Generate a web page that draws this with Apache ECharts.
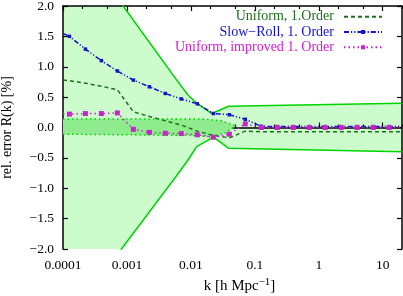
<!DOCTYPE html>
<html><head><meta charset="utf-8">
<script src="https://cdn.jsdelivr.net/npm/echarts@6/dist/echarts.min.js"></script>
<style>html,body{margin:0;padding:0;background:#fff}#c{width:403px;height:296px}</style>
</head><body><div id="c"></div>
<script>
// shared k grid (h/Mpc)
const kGrid = [1e-4, 1.26e-4, 2.24e-4, 3.98e-4, 7.08e-4, 1.26e-3, 2.24e-3, 3.98e-3, 7.08e-3, 0.0126, 0.0224, 0.0398, 0.0708, 0.126, 0.224, 0.398, 0.708, 1.26, 2.24, 3.98, 7.08, 12.6, 20];
const uniform1 = [0.78, 0.77, 0.73, 0.68, 0.62, 0.26, 0.18, 0.11, 0.04, -0.06, -0.13, -0.17, -0.06, -0.07, -0.07, -0.07, -0.07, -0.07, -0.07, -0.07, -0.07, -0.07, -0.07];
const slowRoll1 = [1.55, 1.50, 1.29, 1.10, 0.93, 0.78, 0.67, 0.56, 0.47, 0.39, 0.23, 0.21, 0.135, 0.02, 0.015, 0.015, 0.015, 0.015, 0.015, 0.015, 0.015, 0.015, 0.015];
const improved1 = [0.23, 0.22, 0.23, 0.23, 0.24, -0.03, -0.08, -0.095, -0.10, -0.12, -0.16, -0.11, 0.06, 0.0, 0.0, 0.0, 0.0, 0.0, 0.0, 0.0, 0.0, 0.0, 0.0];
// outer error band
const outerUpK = [1e-4, 8.7e-4, 0.006, 0.009, 0.0123, 0.0212, 0.0386, 20];
const outerUpV = [3.37, 2.0, 0.78, 0.535, 0.40, 0.23, 0.35, 0.40];
const outerLoK = [1e-4, 8.2e-4, 0.006, 0.009, 0.0123, 0.0225, 0.0386, 20];
const outerLoV = [-3.29, -2.0, -0.79, -0.535, -0.316, -0.16, -0.34, -0.40];
// inner error band
const innerUpK = [1e-4, 0.015, 0.03, 0.05];
const innerUpV = [0.14, 0.14, 0.11, 0.03];
const innerLoK = [1e-4, 0.01, 0.02, 0.035, 0.05];
const innerLoV = [-0.11, -0.13, -0.15, -0.09, 0.03];
// ticks
const majorTicks = [1e-4, 1e-3, 0.01, 0.1, 1, 10];
const minorTicks = [2e-4, 5e-4, 2e-3, 5e-3, 0.02, 0.05, 0.2, 0.5, 2, 5, 20];
const seriesNames = ['Uniform, 1.Order', 'Slow\u2212Roll, 1. Order', 'Uniform, improved 1. Order'];

const FONT = 'Liberation Serif';
const cGreenLine = '#00d400', cOuter = '#ccfccc', cInner = '#8eec8e';
const cUni = '#1e6e1e', cSR = '#1414cc', cImp = '#cc22cc';

function pairs(ks, vs) { return ks.map((k, i) => [k, vs[i]]); }
function marked(ks, vs) {
  return ks.map((k, i) => (i === 0 || i === ks.length - 1) ? { value: [k, vs[i]], symbol: 'none' } : [k, vs[i]]);
}
function band(upK, upV, loK, loV, color, z) {
  return {
    type: 'custom', z: z, silent: true, clip: true,
    data: [[upK[1], 0]],
    renderItem: function (params, api) {
      const pts = [];
      for (let i = 0; i < upK.length; i++) pts.push(api.coord([upK[i], upV[i]]));
      for (let i = loK.length - 1; i >= 0; i--) pts.push(api.coord([loK[i], loV[i]]));
      const cs = params.coordSys;
      return { type: 'polygon', shape: { points: echarts.graphic.clipPointsByRect(pts, cs) }, style: { fill: color } };
    }
  };
}
function edge(ks, vs, dotted) {
  return { type: 'line', data: pairs(ks, vs), symbol: 'none', z: 3, silent: true, clip: true,
    lineStyle: { color: cGreenLine, width: 1.5, type: dotted ? [1.5, 3] : 'solid' } };
}
const fmtK = v => String(+(+v).toPrecision(6));
const xBase = { type: 'log', logBase: 10, min: 1e-4, max: 20, splitLine: { show: false } };
const tickStyle = { lineStyle: { color: '#000', width: 1.2 } };

const chart = echarts.init(document.getElementById('c'), null, { renderer: 'canvas' });
chart.setOption({
  animation: false,
  backgroundColor: '#fff',
  grid: { left: 63, right: 1, top: 6, bottom: 47, containLabel: false, outerBoundsMode: 'none' },
  legend: {
    data: [
      { name: seriesNames[0], textStyle: { color: cUni }, itemStyle: { opacity: 0 } },
      { name: seriesNames[1], textStyle: { color: cSR } },
      { name: seriesNames[2], textStyle: { color: cImp } }
    ],
    orient: 'vertical', right: 20, top: 9, padding: 0, align: 'right', itemWidth: 38, itemHeight: 5, itemGap: 0,
    textStyle: { fontFamily: FONT, fontSize: 14, padding: [0, 5, 0, 0], lineHeight: 15.3 }
  },
  xAxis: [
    Object.assign({}, xBase, { position: 'bottom',
      axisLine: { show: true, lineStyle: { color: '#000', width: 1.5 } },
      axisTick: Object.assign({ inside: true, length: 5, customValues: majorTicks }, tickStyle),
      axisLabel: { customValues: majorTicks, formatter: fmtK, fontFamily: FONT, fontSize: 13.5, color: '#000', margin: 9 },
      name: 'k [h Mpc{sup|\u22121}]', nameLocation: 'middle', nameGap: 24,
      nameTextStyle: { fontFamily: FONT, fontSize: 15, color: '#000', lineHeight: 18, padding: [0, 0, 0, 14],
        rich: { sup: { fontFamily: FONT, fontSize: 11, verticalAlign: 'top', lineHeight: 18 } } } }),
    Object.assign({}, xBase, { position: 'bottom', axisLine: { show: false },
      axisTick: Object.assign({ inside: true, length: 3, customValues: minorTicks }, tickStyle),
      axisLabel: { show: false } }),
    Object.assign({}, xBase, { position: 'top',
      axisLine: { show: true, lineStyle: { color: '#000', width: 1.5 } },
      axisTick: Object.assign({ inside: true, length: 5, customValues: majorTicks }, tickStyle),
      axisLabel: { show: false } }),
    Object.assign({}, xBase, { position: 'top', axisLine: { show: false },
      axisTick: Object.assign({ inside: true, length: 3, customValues: minorTicks }, tickStyle),
      axisLabel: { show: false } })
  ],
  yAxis: [
    { type: 'value', min: -2, max: 2, interval: 0.5, position: 'left', splitLine: { show: false },
      axisLine: { show: true, lineStyle: { color: '#000', width: 1.5 } },
      axisTick: Object.assign({ inside: true, length: 5 }, tickStyle),
      axisLabel: { formatter: v => v.toFixed(1).replace('-', '\u2212'), fontFamily: FONT, fontSize: 13.5, color: '#000', margin: 9 },
      name: 'rel. error R(k) [%]', nameLocation: 'middle', nameRotate: 90, nameGap: 49,
      nameTextStyle: { fontFamily: FONT, fontSize: 14, color: '#000' } },
    { type: 'value', min: -2, max: 2, interval: 0.5, position: 'right', splitLine: { show: false },
      axisLine: { show: true, lineStyle: { color: '#000', width: 1.5 } },
      axisTick: Object.assign({ inside: true, length: 5 }, tickStyle),
      axisLabel: { show: false } }
  ],
  series: [
    band(outerUpK, outerUpV, outerLoK, outerLoV, cOuter, 0),
    band(innerUpK, innerUpV, innerLoK, innerLoV, cInner, 1),
    edge(outerUpK, outerUpV, false),
    edge(outerLoK, outerLoV, false),
    edge(innerUpK, innerUpV, true),
    edge(innerLoK, innerLoV, true),
    { name: seriesNames[0], type: 'line', z: 5, data: pairs(kGrid, uniform1), symbol: 'none',
      lineStyle: { color: cUni, width: 1.5, type: [4, 3] }, itemStyle: { color: cUni } },
    { name: seriesNames[1], type: 'line', z: 6, data: marked(kGrid, slowRoll1), symbol: 'rect', symbolSize: 3.5,
      lineStyle: { color: cSR, width: 1.5, type: [5, 2, 1.2, 2, 1.2, 2] }, itemStyle: { color: cSR } },
    { name: seriesNames[2], type: 'line', z: 7, data: marked(kGrid, improved1), symbol: 'rect', symbolSize: 5,
      lineStyle: { color: cImp, width: 1.5, type: [1.5, 3] }, itemStyle: { color: cImp } }
  ]
});
</script>
</body></html>
